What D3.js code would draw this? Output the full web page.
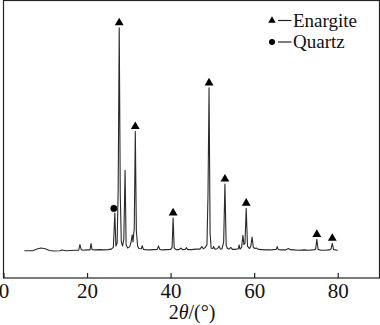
<!DOCTYPE html>
<html>
<head>
<meta charset="utf-8">
<script src="https://cdn.jsdelivr.net/npm/d3@7"></script>
<style>
  body { margin: 0; background: #fff; }
  svg { display: block; }
</style>
</head>
<body>
<div id="chart"></div>
<script>
// XRD trace: [2theta, intensity]
const trace = [
  [5, 9.8], [7, 9.8], [8, 10.4], [9, 10.8], [10, 10.5], [11, 9.9], [12, 9.7], [13.5, 9.8],
  [14, 10.1], [15, 9.8], [16, 9.9], [17.5, 10.0], [18.0, 10.0], [18.3, 12.0], [18.6, 10.2],
  [19, 10.0], [20, 10.1], [20.7, 10.1], [20.95, 12.4], [21.2, 10.2], [22, 10.1], [23, 10.2],
  [24, 10.1], [25, 10.2], [25.8, 10.4], [26.3, 11.0], [26.65, 23.4], [26.9, 11.5], [27.2, 12.5],
  [27.45, 32], [27.7, 90], [27.95, 30], [28.2, 13], [28.5, 11.5], [28.8, 14], [29.1, 38.7],
  [29.35, 12], [29.7, 10.8], [30.2, 11.2], [30.55, 13], [30.8, 15.5], [31.0, 13], [31.3, 18],
  [31.55, 52.7], [31.8, 17], [32.1, 11.5], [32.4, 10.6], [33.0, 10.5], [33.2, 11.6], [33.5, 10.3],
  [34, 10.2], [35, 10.1], [36, 10.2], [36.8, 10.3], [37.1, 11.5], [37.4, 10.3], [38, 10.1],
  [39, 10.2], [40, 10.3], [40.35, 11], [40.6, 21.6], [40.85, 10.8], [41.3, 10.2], [42, 10.2],
  [42.5, 10.8], [42.8, 10.2], [43.5, 10.3], [43.8, 10.9], [44.1, 10.2], [45, 10.2], [46, 10.4],
  [47, 10.4], [47.5, 11.3], [47.8, 10.5], [48.3, 11.0], [48.7, 12], [48.95, 30], [49.2, 68.4],
  [49.45, 16], [49.7, 10.7], [50.1, 10.6], [50.3, 11.3], [50.6, 10.4], [51.2, 10.5], [51.6, 11.5],
  [51.9, 10.4], [52.3, 10.5], [52.7, 13], [53.0, 33.8], [53.3, 11.8], [53.6, 10.6], [54, 10.4],
  [54.4, 11], [54.8, 10.3], [55.5, 10.3], [56.2, 10.5], [56.4, 11.9], [56.6, 10.4], [57.0, 11],
  [57.3, 15.4], [57.55, 12], [57.8, 12.5], [58.1, 25.1], [58.4, 11.5], [58.9, 10.6], [59.2, 11.4],
  [59.5, 14.7], [59.8, 11], [60.2, 10.6], [60.5, 10.8], [61, 10.3], [62, 10.2], [63, 10.1],
  [64, 10.1], [64.5, 10.2], [65.3, 10.3], [65.5, 11.3], [65.8, 10.2], [66.5, 10.1], [67.5, 10.1],
  [68.2, 10.6], [68.6, 10.2], [69.5, 10.1], [70.5, 10.0], [72, 10.1], [73, 10.0], [74, 10.1],
  [74.7, 10.3], [75.0, 13.9], [75.3, 10.3], [76, 10.0], [77, 10.0], [78, 10.1], [78.4, 10.4],
  [78.7, 12.5], [79.0, 10.2], [80, 10.0]
]

// marked peaks
const enargitePeaks = [[27.7, 90], [31.55, 52.7], [40.6, 21.6], [49.2, 68.4], [53.0, 33.8], [58.1, 25.1], [75.0, 13.9], [78.7, 12.5]]
const quartzPeaks = [[26.65, 23.4]]

const xTicks = [0, 20, 40, 60, 80]
const legendItems = ['Enargite', 'Quartz']

const width = 380
const height = 325
const plot = { left: 3.5, right: 379.5, top: 0.5, bottom: 278 }
const serif = 'Liberation Serif, DejaVu Serif, serif'

const svg = d3.select('#chart')
  .append('svg')
  .attr('width', width)
  .attr('height', height)
  .attr('font-family', serif)

const x = d3.scaleLinear()
  .domain([0, 90])
  .range([plot.left, plot.right])

const y = d3.scaleLinear()
  .domain([0, 100])
  .range([plot.bottom, 0])

// frame
svg.append('rect')
  .attr('x', plot.left)
  .attr('y', plot.top)
  .attr('width', plot.right - plot.left)
  .attr('height', plot.bottom - plot.top)
  .attr('fill', 'none')
  .attr('stroke', '#222')
  .attr('stroke-width', 1.2)

// bottom axis, ticks pointing inward
const xAxis = svg.append('g')
  .attr('transform', `translate(0,${plot.bottom})`)
  .call(d3.axisBottom(x).tickValues(xTicks).tickSize(-5).tickPadding(5))

xAxis.attr('font-family', serif).attr('font-size', 21)
xAxis.select('.domain').remove()
xAxis.selectAll('line').attr('stroke', '#222').attr('stroke-width', 1.2)
xAxis.selectAll('text').attr('fill', '#111')

// axis title 2θ/(°)
const title = svg.append('text')
  .attr('x', 192)
  .attr('y', 319)
  .attr('text-anchor', 'middle')
  .attr('font-size', 20)
  .attr('fill', '#111')
title.append('tspan').text('2')
title.append('tspan').attr('font-style', 'italic').text('θ')
title.append('tspan').text('/(°)')

// diffraction trace
const line = d3.line()
  .x(d => x(d[0]))
  .y(d => y(d[1]))

svg.append('path')
  .datum(trace)
  .attr('fill', 'none')
  .attr('stroke', '#2a2a2a')
  .attr('stroke-width', 1.1)
  .attr('stroke-linejoin', 'round')
  .attr('d', line)

const tri = d3.symbol().type(d3.symbolTriangle).size(34)

svg.selectAll('.enargite')
  .data(enargitePeaks)
  .enter().append('path')
  .attr('class', 'enargite')
  .attr('d', tri)
  .attr('transform', d => `translate(${x(d[0])},${y(d[1]) - 5})`)
  .attr('fill', '#000')

svg.selectAll('.quartz')
  .data(quartzPeaks)
  .enter().append('circle')
  .attr('class', 'quartz')
  .attr('cx', d => x(d[0]) - 1)
  .attr('cy', d => y(d[1]) - 4.5)
  .attr('r', 3.4)
  .attr('fill', '#000')

// legend
const legend = svg.append('g')
  .attr('transform', 'translate(272,20.5)')

legend.selectAll('text')
  .data(legendItems)
  .enter().append('text')
  .attr('x', 21)
  .attr('y', (d, i) => i * 21.5 + 6)
  .attr('font-size', 19)
  .attr('fill', '#111')
  .text(d => d)

legend.selectAll('line')
  .data(legendItems)
  .enter().append('line')
  .attr('x1', 6)
  .attr('x2', 19.5)
  .attr('y1', (d, i) => i * 21.5)
  .attr('y2', (d, i) => i * 21.5)
  .attr('stroke', '#222')
  .attr('stroke-width', 1.2)

legend.append('path')
  .attr('d', d3.symbol().type(d3.symbolTriangle).size(24))
  .attr('fill', '#000')

legend.append('circle')
  .attr('cx', 0)
  .attr('cy', 21.5)
  .attr('r', 3)
  .attr('fill', '#000')
</script>
</body>
</html>
